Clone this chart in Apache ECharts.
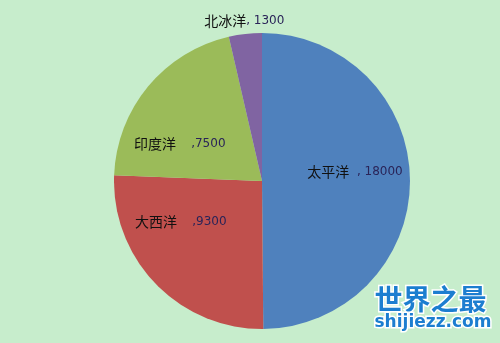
<!DOCTYPE html>
<html><head><meta charset="utf-8">
<script src="https://cdn.jsdelivr.net/npm/echarts@6/dist/echarts.min.js"></script>
<style>html,body{margin:0;padding:0;background:#C7EDCC;}#c{width:500px;height:343px;}</style>
</head><body><div id="c"></div>
<script>
const categories = ['太平洋', '大西洋', '印度洋', '北冰洋'];
const values = [18000, 9300, 7500, 1300];
const colors = ['#4F81BD', '#C0504D', '#9BBB59', '#8064A2'];
const separators = ['  , ', '    ,', '    ,', ', '];
const labelShift = [[16, -9], [-26, -13], [-23, 12], [-9, -84]];

const chart = echarts.init(document.getElementById('c'));
chart.setOption({
  backgroundColor: '#C7EDCC',
  animation: false,
  graphic: [
    {type:'text', left: 373, top: 284, style:{text:'世界之最', font:'bold 28px "Noto Sans CJK SC"', fill:'#1C7ED0', stroke:'#ffffff', lineWidth:3}},
    {type:'text', left: 373, top: 313, style:{text:'shijiezz.com', font:'bold 17px "DejaVu Sans"', fill:'#1C7ED0', stroke:'#ffffff', lineWidth:3}}
  ],
  series: [{
    type: 'pie',
    center: [262, 181],
    radius: [0, 148],
    startAngle: 90,
    clockwise: true,
    silent: true,
    data: categories.map((n, i) => ({
      name: n, value: values[i],
      itemStyle: {color: colors[i]},
      label: {formatter: '{a|' + n + '}{b|' + separators[i] + values[i] + '}'}
    })),
    label: {
      show: true,
      position: 'inside',
      rich: {
        a: {fontFamily: '"Noto Sans CJK SC"', fontSize: 14, color: '#111'},
        b: {fontFamily: '"DejaVu Sans"', fontSize: 12, color: '#2a2458'}
      }
    },
    labelLine: {show: false},
    labelLayout: function (p) {
      const s = labelShift[p.dataIndex];
      return {dx: s[0], dy: s[1]};
    }
  }]
});
</script></body></html>
